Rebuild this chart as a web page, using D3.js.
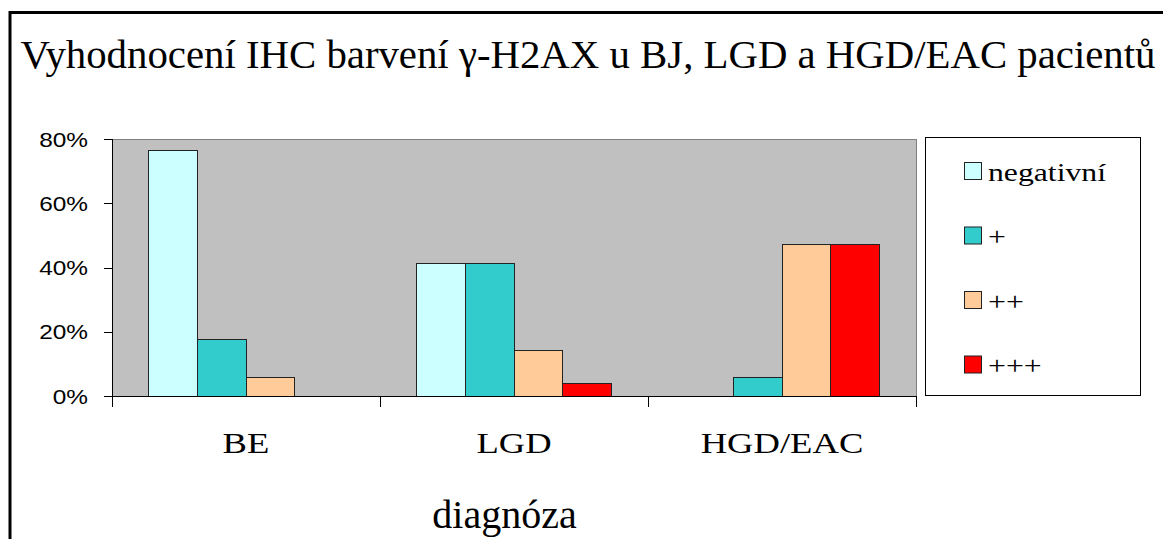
<!DOCTYPE html>
<html>
<head>
<meta charset="utf-8">
<script src="https://cdn.jsdelivr.net/npm/d3@7"></script>
<style>
  html, body { margin: 0; padding: 0; background: #fff; }
  svg { display: block; }
</style>
</head>
<body>
<div id="chart"></div>
<script>
// data
var categories = ["BE", "LGD", "HGD/EAC"];
var seriesNames = ["negativní", "+", "++", "+++"];
var negativni = [0.765, 0.412, 0];
var plus1 = [0.176, 0.412, 0.059];
var plus2 = [0.059, 0.141, 0.471];
var plus3 = [0, 0.040, 0.471];
var yTicks = [0, 0.2, 0.4, 0.6, 0.8];
var colors = ["#CCFFFF", "#33CCCC", "#FFCC99", "#FF0000"];

var titleText = "Vyhodnocení IHC barvení \u03B3-H2AX u BJ, LGD a HGD/EAC pacientů";
var xTitle = "diagnóza";

var W = 1163, H = 539;
// chart object is stretched a bit sideways in the slide
var SX = 1.22;
var SERIF = "'Liberation Serif', serif";
var SANS = "'Liberation Sans', sans-serif";

var plot = { left: 112, right: 916, top: 139, bottom: 396 };

var svg = d3.select("#chart").append("svg")
  .attr("width", W)
  .attr("height", H);

// slide frame
svg.append("path")
  .attr("d", "M10," + H + " V12.5 H" + W)
  .attr("fill", "none")
  .attr("stroke", "#000")
  .attr("stroke-width", 3);

// title
svg.append("text")
  .style("font-family", SERIF)
  .style("font-size", "40px")
  .attr("x", 20.5)
  .attr("y", 68)
  .attr("textLength", 1135)
  .attr("lengthAdjust", "spacingAndGlyphs")
  .text(titleText);

var series = seriesNames.map(function(name, i) {
  return { name: name, values: [negativni, plus1, plus2, plus3][i], color: colors[i] };
});

var x0 = d3.scaleBand()
  .domain(categories)
  .range([plot.left, plot.right])
  .padding(0);

var x1 = d3.scaleBand()
  .domain(seriesNames)
  .range([0, x0.bandwidth()])
  .paddingInner(0)
  .paddingOuter(0.75);

var y = d3.scaleLinear()
  .domain([0, 0.8])
  .range([plot.bottom, plot.top]);

// plot area
svg.append("rect")
  .attr("x", plot.left)
  .attr("y", plot.top)
  .attr("width", plot.right - plot.left)
  .attr("height", plot.bottom - plot.top)
  .attr("fill", "#C0C0C0")
  .attr("stroke", "#808080")
  .attr("stroke-width", 1)
  .attr("shape-rendering", "crispEdges");

// bars
var bars = [];
series.forEach(function(s) {
  categories.forEach(function(c, j) {
    if (s.values[j] > 0) bars.push({ cat: c, name: s.name, value: s.values[j], color: s.color });
  });
});

svg.append("g").selectAll("rect")
  .data(bars)
  .enter().append("rect")
  .attr("x", function(d) { return x0(d.cat) + x1(d.name); })
  .attr("y", function(d) { return y(d.value); })
  .attr("width", x1.bandwidth())
  .attr("height", function(d) { return y(0) - y(d.value); })
  .attr("fill", function(d) { return d.color; })
  .attr("stroke", "#222")
  .attr("stroke-width", 1)
  .attr("shape-rendering", "crispEdges");

// y axis
var yAxis = svg.append("g")
  .attr("transform", "translate(" + plot.left + ",0)")
  .call(d3.axisLeft(y).tickValues(yTicks).tickSize(8).tickFormat(d3.format(".0%")));

yAxis.attr("font-family", null).attr("font-size", null);
yAxis.select(".domain").attr("stroke", "#000").attr("shape-rendering", "crispEdges");
yAxis.selectAll(".tick line").attr("stroke", "#000").attr("shape-rendering", "crispEdges");
yAxis.selectAll(".tick text")
  .style("font-family", SANS)
  .style("font-size", "20px")
  .attr("fill", "#000")
  .attr("x", 0)
  .attr("dy", "0.36em")
  .attr("text-anchor", "end")
  .attr("transform", "translate(-24,0) scale(" + SX + ",1)");

// x axis (ticks between categories)
var xAxis = svg.append("g");
xAxis.append("line")
  .attr("x1", plot.left).attr("x2", plot.right)
  .attr("y1", plot.bottom).attr("y2", plot.bottom)
  .attr("stroke", "#000")
  .attr("shape-rendering", "crispEdges");

var bounds = categories.map(function(c) { return x0(c); }).concat([x0.range()[1]]);
xAxis.selectAll(".xtick")
  .data(bounds)
  .enter().append("line")
  .attr("class", "xtick")
  .attr("x1", function(d) { return d; }).attr("x2", function(d) { return d; })
  .attr("y1", plot.bottom).attr("y2", plot.bottom + 11)
  .attr("stroke", "#000")
  .attr("shape-rendering", "crispEdges");

xAxis.selectAll(".xlabel")
  .data(categories)
  .enter().append("text")
  .style("font-family", SERIF)
  .style("font-size", "30px")
  .attr("text-anchor", "middle")
  .attr("transform", function(d) {
    return "translate(" + (x0(d) + x0.bandwidth() / 2) + ",453) scale(" + SX + ",1)";
  })
  .text(function(d) { return d; });

// x title
svg.append("text")
  .style("font-family", SERIF)
  .style("font-size", "40px")
  .attr("x", 504.5)
  .attr("y", 528)
  .attr("text-anchor", "middle")
  .text(xTitle);

// legend
var legend = svg.append("g");
legend.append("rect")
  .attr("x", 925.5)
  .attr("y", 137.5)
  .attr("width", 215)
  .attr("height", 258)
  .attr("fill", "#fff")
  .attr("stroke", "#000")
  .attr("stroke-width", 1);

var item = legend.selectAll(".item")
  .data(series)
  .enter().append("g")
  .attr("class", "item")
  .attr("transform", function(d, i) { return "translate(964," + (170.5 + i * 64.5) + ")"; });

item.append("rect")
  .attr("x", 0.5)
  .attr("y", -8)
  .attr("width", 17)
  .attr("height", 17)
  .attr("fill", function(d) { return d.color; })
  .attr("stroke", "#222")
  .attr("stroke-width", 1);

item.append("text")
  .style("font-family", SERIF)
  .style("font-size", "26px")
  .attr("transform", "translate(24,10) scale(" + SX + ",1)")
  .text(function(d) { return d.name; });
</script>
</body>
</html>
